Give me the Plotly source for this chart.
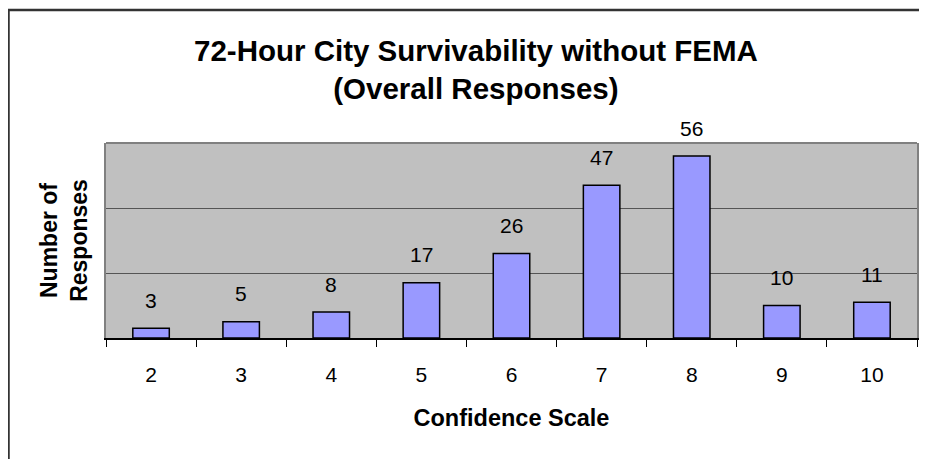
import plotly.graph_objects as go

categories = ["2", "3", "4", "5", "6", "7", "8", "9", "10"]
responses = [3, 5, 8, 17, 26, 47, 56, 10, 11]
title_text = "72-Hour City Survivability without FEMA<br>(Overall Responses)"
x_title = "Confidence Scale"
y_title = "Number of<br>Responses"

FONT = "Liberation Sans, Arial, sans-serif"
# page body has an 8px margin; the figure overflows the right/bottom edges slightly
W, H = 927, 459
ML, MR, MT, MB = 98, 18, 135, 129
pw = W - ML - MR
ph = H - MT - MB

fig = go.Figure()
fig.add_trace(go.Bar(
    x=categories, y=responses,
    marker=dict(color="#9999FF", line=dict(color="black", width=1.5)),
    hoverinfo="skip",
))

for i, (c, v) in enumerate(zip(categories, responses)):
    fig.add_annotation(x=i, y=v, text=str(v), showarrow=False,
                       yanchor="middle", yshift=28,
                       font=dict(family=FONT, size=21, color="black"))

# chart title
fig.add_annotation(xref="paper", yref="paper", x=(468 - ML) / pw,
                   y=(H - MB - 61) / ph, xanchor="center", yanchor="middle",
                   text="<b>" + title_text + "</b>", showarrow=False,
                   font=dict(family=FONT, size=29.5, color="black"))

# outer chart frame (extends past the right/bottom edges)
fig.add_shape(type="rect", xref="paper", yref="paper",
              x0=(0.5 - ML) / pw, x1=1.3, y0=-1.5, y1=(H - MB - 2) / ph,
              line=dict(color="#333333", width=2.5), layer="below")
# top border of plot area
fig.add_shape(type="line", xref="paper", yref="paper", x0=0, x1=1, y0=1, y1=1,
              line=dict(color="#808080", width=2), layer="above")

fig.update_layout(
    width=W, height=H, autosize=False,
    margin=dict(l=ML, r=MR, t=MT, b=MB, autoexpand=False),
    paper_bgcolor="white", plot_bgcolor="#C0C0C0",
    showlegend=False, bargap=0.595,
    font=dict(family=FONT, color="black"),
    xaxis=dict(type="category", tickson="boundaries", ticks="outside", ticklen=7,
               tickcolor="black", tickwidth=1, showline=True, linecolor="black",
               linewidth=1.5, showgrid=False, tickfont=dict(size=21),
               ticklabelstandoff=17, automargin=False,
               title=dict(text="<b>" + x_title + "</b>", font=dict(size=23.5), standoff=25)),
    yaxis=dict(range=[0, 60], dtick=20, showticklabels=False, ticks="",
               showgrid=True, gridcolor="#555555", gridwidth=1,
               showline=True, linecolor="#808080", linewidth=2, mirror=True,
               zeroline=False, automargin=False,
               title=dict(text="<b>" + y_title + "</b>", font=dict(size=23), standoff=10)),
)

fig.write_html("out.html")
